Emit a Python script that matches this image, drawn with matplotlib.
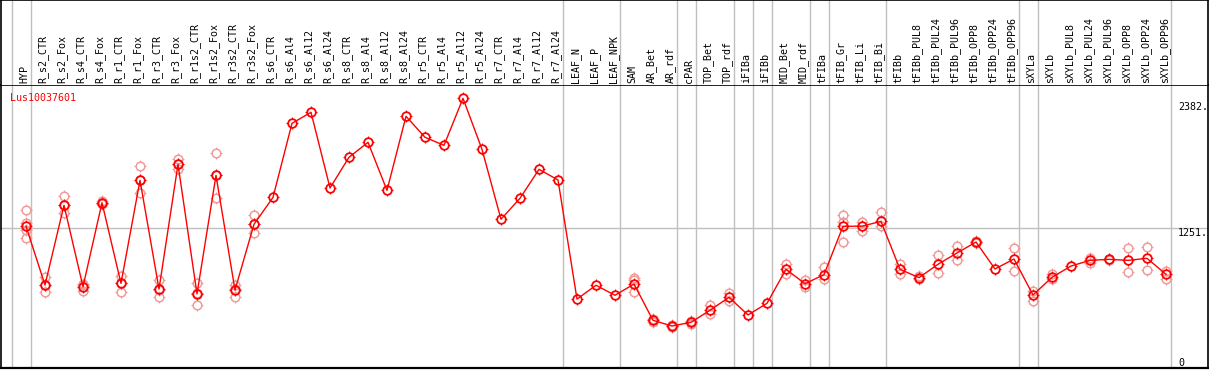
"""Expression profile of Lus10037601 across tissues (eFP-style line chart)."""

import matplotlib

matplotlib.use("Agg")
import matplotlib.pyplot as plt
from matplotlib.path import Path

samples = [
    "HYP", "R_s2_CTR", "R_s2_Fox", "R_s4_CTR", "R_s4_Fox", "R_r1_CTR", "R_r1_Fox",
    "R_r3_CTR", "R_r3_Fox", "R_r1s2_CTR", "R_r1s2_Fox", "R_r3s2_CTR", "R_r3s2_Fox",
    "R_s6_CTR", "R_s6_Al4", "R_s6_Al12", "R_s6_Al24", "R_s8_CTR", "R_s8_Al4",
    "R_s8_Al12", "R_s8_Al24", "R_r5_CTR", "R_r5_Al4", "R_r5_Al12", "R_r5_Al24",
    "R_r7_CTR", "R_r7_Al4", "R_r7_Al12", "R_r7_Al24", "LEAF_N", "LEAF_P", "LEAF_NPK",
    "SAM", "AR_Bet", "AR_rdf", "cPAR", "TOP_Bet", "TOP_rdf", "iFIBa", "iFIBb",
    "MID_Bet", "MID_rdf", "tFIBa", "tFIB_Gr", "tFIB_Li", "tFIB_Bi", "tFIBb",
    "tFIBb_PUL8", "tFIBb_PUL24", "tFIBb_PUL96", "tFIBb_OPP8", "tFIBb_OPP24",
    "tFIBb_OPP96", "sXYLa", "sXYLb", "sXYLb_PUL8", "sXYLb_PUL24", "sXYLb_PUL96",
    "sXYLb_OPP8", "sXYLb_OPP24", "sXYLb_OPP96",
]

mean_values = [
    1269, 743, 1457, 728, 1480, 758, 1681, 707, 1824, 663, 1725, 698, 1287,
    1528, 2191, 2290, 1612, 1887, 2021, 1591, 2254, 2066, 1994, 2415, 1958,
    1332, 1520, 1779, 1684, 617, 741, 651,
    752, 427, 376, 409, 517, 633, 475, 579, 884, 755, 836, 1269, 1270, 1313,
    884, 809, 929, 1030, 1128, 887, 976, 654, 812, 913, 964, 973, 964, 982, 839,
]

replicates = [
    [1415, 1296, 1236, 1161], [818, 743, 678], [1540, 1457, 1385], [752, 740, 692],
    [1495, 1480, 1465], [827, 765, 683], [1809, 1681, 1570], [788, 700, 633],
    [1874, 1824, 1779], [758, 670, 561], [1922, 1725, 1520], [743, 710, 638],
    [1370, 1287, 1206],
    [], [], [], [], [], [], [], [], [], [], [], [], [], [], [], [], [], [], [],
    [803, 788, 678], [440, 415], [385, 365], [420, 398], [564, 481], [669, 603],
    [], [], [929, 842], [788, 722], [902, 797], [1370, 1310, 1126], [1310, 1230],
    [1394, 1272], [931, 839], [820, 800], [1012, 848], [1093, 964], [1140, 1120],
    [], [1072, 869], [692, 603], [839, 800], [], [988, 943], [980, 968],
    [1072, 857], [1081, 878], [871, 797],
]

# index of the last sample in each group: a grey divider is drawn right after it
group_ends = [-1, 0, 28, 31, 34, 35, 37, 38, 39, 41, 42, 45, 52, 53, 60]
axis_labels = [2382, 1251, 0]
gene_id = "Lus10037601"

W, H = 1209, 370
GRID = "#c0c0c0"
RED = "#ff0000"
PALE = "#f09a9a"
FONT = "DejaVu Sans Mono"

# four short ticks sitting just outside the circle marker
TICKS = Path.make_compound_path(
    Path([(0, 1.0), (0, 1.4)]), Path([(0, -1.0), (0, -1.4)]),
    Path([(1.0, 0), (1.4, 0)]), Path([(-1.0, 0), (-1.4, 0)]),
)


def draw_marks(ax, x, y, color, lw, z):
    ax.plot(x, y, linestyle="none", marker="o", markersize=6.2,
            markerfacecolor="none", markeredgecolor=color,
            markeredgewidth=lw, zorder=z, clip_on=False)
    ax.plot(x, y, linestyle="none", marker=TICKS, markersize=8.6,
            markerfacecolor="none", markeredgecolor=color,
            markeredgewidth=0.8, zorder=z, clip_on=False)


fig = plt.figure(figsize=(W / 100, H / 100), dpi=100)

x_lo, x_hi = (1 - 26) / 19, (1208 - 26) / 19
ymax = (368 - 85) * 1251 / (368 - 228.3)

ax = fig.add_axes([1 / W, 2 / H, 1207 / W, 283 / H])
head = fig.add_axes([1 / W, 285 / H, 1207 / W, 85 / H])

for a in (ax, head):
    a.set_xlim(x_lo, x_hi)
    a.set_xticks([])
    a.set_yticks([])
    for sp in a.spines.values():
        sp.set_color("black")
        sp.set_linewidth(1.2)
    for g in group_ends:
        a.axvline(g + 0.25, color=GRID, lw=1, zorder=0)
head.spines["bottom"].set_visible(False)
ax.spines["bottom"].set_linewidth(1.6)
head.set_ylim(0, 85)
ax.set_ylim(0, ymax)

for i, name in enumerate(samples):
    head.text(i - 0.1, 2, name, rotation=90, ha="center", va="bottom",
              fontsize=7.2, family=FONT, color="black")

ax.axhline(1251, color=GRID, lw=1, zorder=0)

xs = list(range(len(samples)))
for i, reps in enumerate(replicates):
    if reps:
        draw_marks(ax, [i] * len(reps), reps, PALE, 1.1, 2)
ax.plot(xs, mean_values, color=RED, lw=1, zorder=3)
draw_marks(ax, xs, mean_values, RED, 1.3, 4)

ax.text(-0.85, ymax - 8 * ymax / 283, gene_id, color=RED, fontsize=7.2,
        family=FONT, ha="left", va="top")

lab_x = (1178 - 26) / 19
for v in axis_labels:
    ax.text(lab_x, v, f"{v}." if v else "0", fontsize=7.2, family=FONT,
            ha="left", va="bottom" if v == 0 else "top", color="black")

fig.savefig("out.png", dpi=100)
